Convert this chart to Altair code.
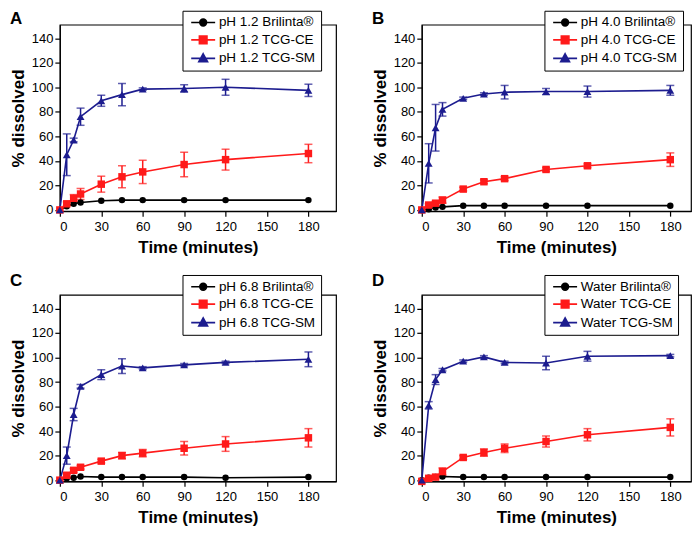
import altair as alt
import pandas as pd

FONT = "Liberation Sans, Arial, sans-serif"

times = [0, 5, 10, 15, 30, 45, 60, 90, 120, 180]
series_keys = ["Brilinta", "TCG-CE", "TCG-SM"]
series_colors = ["#000000", "#ff1a1a", "#1c1c8f"]
panel_letters = ["A", "B", "C", "D"]
panel_media = ["pH 1.2", "pH 4.0", "pH 6.8", "Water"]
x_ticks = [0, 30, 60, 90, 120, 150, 180]
y_ticks = [0, 20, 40, 60, 80, 100, 120, 140]

# Panel A (pH 1.2)
a_bril = [0, 3, 5, 6, 7.5, 8, 8, 8, 8, 8]
a_bril_sd = [0, 0, 0, 0, 0, 0, 0, 0, 0, 0]
a_ce = [0, 5, 9.5, 13, 21, 27, 31, 37, 41, 46]
a_ce_sd = [0, 1.5, 3, 4.5, 6.5, 9, 9.5, 10, 8.5, 7.5]
a_sm = [0, 45, 57, 76, 89, 94, 98.5, 99, 100, 97.5]
a_sm_sd = [0, 17, 1.5, 7, 4.5, 9, 1, 3, 6.5, 5]

# Panel B (pH 4.0)
b_bril = [0, 0.5, 2, 2.5, 3.5, 3.5, 3.5, 3.5, 3.5, 3.5]
b_bril_sd = [0, 0, 0, 0, 0, 0, 0, 0, 0, 0]
b_ce = [0, 4, 5.5, 8, 17, 23, 25.5, 33, 36, 41]
b_ce_sd = [0, 1, 1.5, 2.5, 1.5, 1.5, 1.5, 1.5, 1.5, 5.5]
b_sm = [0, 38, 67, 82, 91, 94.5, 96, 96.5, 96.5, 97.5]
b_sm_sd = [0, 16, 19, 5.5, 1, 1, 5.5, 2.5, 4.5, 4]

# Panel C (pH 6.8)
c_bril = [0, 1.5, 2, 3, 2.5, 2.5, 2.5, 2.5, 2, 2.5]
c_bril_sd = [0, 0, 0, 0, 0, 0, 0, 0, 0, 0]
c_ce = [0, 4, 8, 10.5, 15.5, 20, 22, 26, 29.5, 34.5]
c_ce_sd = [0, 1, 1.5, 1.5, 1.5, 2.5, 3, 5.5, 6, 7.5]
c_sm = [0, 20, 53.5, 76.5, 86, 93, 91.5, 94, 96, 98.5]
c_sm_sd = [0, 7, 5, 1.5, 4, 6, 1, 1, 1, 6]

# Panel D (Water)
d_bril = [0, 2, 2.5, 3, 2.5, 2.5, 2.5, 2.5, 2.5, 2.5]
d_bril_sd = [0, 0, 0, 0, 0, 0, 0, 0, 0, 0]
d_ce = [-1, 1.5, 2.5, 7, 18.5, 22.5, 26, 31.5, 37, 43]
d_ce_sd = [0, 0.5, 1, 3, 1.5, 3, 3.5, 4.5, 5, 7]
d_sm = [0, 61, 82, 90, 97, 100.5, 96, 95.5, 101, 101.5]
d_sm_sd = [0, 3, 4, 1, 1, 1, 1, 5.5, 4, 1]

panel_data = [
    (a_bril, a_bril_sd, a_ce, a_ce_sd, a_sm, a_sm_sd),
    (b_bril, b_bril_sd, b_ce, b_ce_sd, b_sm, b_sm_sd),
    (c_bril, c_bril_sd, c_ce, c_ce_sd, c_sm, c_sm_sd),
    (d_bril, d_bril_sd, d_ce, d_ce_sd, d_sm, d_sm_sd),
]

point_shapes = ["circle", "square", "triangle-up"]
point_sizes = [42, 56, 62]
# legend symbols: a short line with the marker on it
legend_paths = [
    "M-3,0H3M-0.85,0A0.85,0.85,0,1,1,0.85,0A0.85,0.85,0,1,1,-0.85,0Z",
    "M-3,0H3M-0.95,-0.95H0.95V0.95H-0.95Z",
    "M-3,0H3M0,-1.15L1.1,0.85H-1.1Z",
]

PLOT_H = 187


def make_panel(idx, xmax, width, legend_y, letter_y, pad):
    bril, bril_sd, ce, ce_sd, sm, sm_sd = panel_data[idx]
    rows = []
    for key, means, sds in zip(series_keys, [bril, ce, sm], [bril_sd, ce_sd, sm_sd]):
        for t, m, s in zip(times, means, sds):
            rows.append({"time": t, "series": key, "mean": m,
                         "lo": m - s, "hi": m + s, "sd": s})
    df = pd.DataFrame(rows)

    x_axis = alt.Axis(values=x_ticks, title="Time (minutes)", tickSize=5,
                      labelPadding=4, titlePadding=6, grid=False)
    y_axis = alt.Axis(values=y_ticks, title="% dissolved", tickSize=5,
                      labelPadding=2, titlePadding=4, grid=False)
    xs = alt.Scale(domain=[0, xmax], nice=False, zero=False)
    ys = alt.Scale(domain=[-1, 151], nice=False, zero=False)
    x_enc = alt.X("time:Q", scale=xs, axis=x_axis)
    y_enc = alt.Y("mean:Q", scale=ys, axis=y_axis)
    cscale = alt.Scale(domain=series_keys, range=series_colors)

    prefix = panel_media[idx]
    label_expr = ("'" + prefix + " ' + (datum.label == 'Brilinta' ? 'Brilinta\u00ae' : datum.label) + '"
                  + pad + "'")
    leg = alt.Legend(title=None, orient="none", legendX=123, legendY=legend_y,
                     direction="vertical", labelExpr=label_expr, labelFont=FONT,
                     labelFontSize=13.5, labelColor="black", labelLimit=400,
                     symbolSize=64, symbolStrokeWidth=1.6, symbolOpacity=1,
                     symbolOffset=9, labelOffset=9, padding=5, rowPadding=2.5,
                     strokeColor="black", fillColor="white", cornerRadius=0)

    base = alt.Chart(df)
    errs, lines, pts = [], [], []
    for key, col, shp, sz in zip(series_keys, series_colors, point_shapes, point_sizes):
        sub = base.transform_filter(alt.datum.series == key)
        errs.append(
            sub.transform_filter("datum.sd > 0").mark_errorbar(
                ticks=True, size=8, thickness=1.5, color=col
            ).encode(x=x_enc, y=alt.Y("lo:Q", scale=ys, axis=y_axis), y2="hi:Q")
        )
        lines.append(sub.mark_line(strokeWidth=1.6, color=col).encode(x=x_enc, y=y_enc))
        pts.append(
            sub.mark_point(filled=True, shape=shp, size=sz, opacity=1, color=col)
            .encode(x=x_enc, y=y_enc)
        )
    legend_layer = base.transform_filter("false").mark_point(
        filled=True, opacity=1, size=64, strokeWidth=1.6
    ).encode(
        x=x_enc, y=y_enc,
        color=alt.Color("series:N", scale=cscale, legend=leg),
        stroke=alt.Stroke("series:N", scale=cscale, legend=leg),
        shape=alt.Shape("series:N", scale=alt.Scale(domain=series_keys, range=legend_paths), legend=leg),
    )
    letter = alt.Chart(pd.DataFrame({"letter": [panel_letters[idx]]})).mark_text(
        align="left", baseline="top", fontSize=17, fontWeight="bold", font=FONT, color="black"
    ).encode(text="letter:N", x=alt.value(-50), y=alt.value(letter_y))

    return alt.layer(*errs, *lines, *pts, legend_layer, letter).properties(width=width, height=PLOT_H)


NB = "\u00a0"
pA = make_panel(0, 200, 277, -14, -14, NB * 5)
pB = make_panel(1, 195, 270, -14, -14, NB * 3)
pC = make_panel(2, 200, 277, -20, -22, NB * 5)
pD = make_panel(3, 195, 270, -20, -22, NB * 2)

chart = alt.concat(
    pA, pB, pC, pD, columns=2, spacing={"row": 84, "column": 86}, bounds="flush"
).resolve_scale(
    color="independent", stroke="independent", shape="independent",
    x="independent", y="independent"
).resolve_legend(
    color="independent", stroke="independent", shape="independent"
).properties(
    padding=0, background="white"
).configure(
    font=FONT
).configure_view(
    stroke="black", strokeWidth=1.2
).configure_axis(
    labelFont=FONT, labelFontSize=13, labelColor="black",
    titleFont=FONT, titleFontSize=17, titleFontWeight="bold", titleColor="black",
    domainColor="black", domainWidth=1.2, tickColor="black", tickWidth=1.2
)

chart.save("out.html", embed_options={"renderer": "svg", "actions": False})
